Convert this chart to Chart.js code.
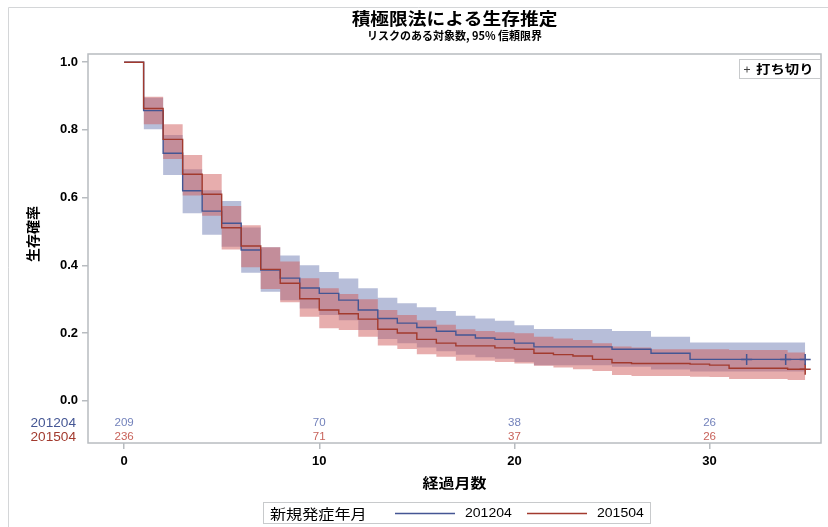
<!DOCTYPE html>
<html>
<head>
<meta charset="utf-8">
<script src="https://cdn.jsdelivr.net/npm/chart.js@4/dist/chart.umd.min.js"></script>
<style>
  html, body { margin: 0; padding: 0; background: #ffffff; }
  #wrap { width: 828px; height: 527px; position: relative; }
</style>
</head>
<body>
<div id="wrap"><canvas id="km" width="828" height="527"></canvas></div>
<script>
// Follow-up months at which each Kaplan-Meier step begins (last entry = end of follow-up)
const months = [0, 1, 2, 3, 4, 5, 6, 7, 8, 9, 10, 11, 12, 13, 14, 15, 16, 17, 18, 19,
                20, 21, 22, 23, 24, 25, 26, 27, 28, 29, 30, 31, 32, 33, 34, 34.9];

// Group 201204: survival estimate and 95% confidence limits
const surv201204 = [1.000, 0.857, 0.731, 0.620, 0.560, 0.524, 0.445, 0.386, 0.362, 0.333,
                    0.317, 0.297, 0.268, 0.243, 0.229, 0.216, 0.205, 0.194, 0.185, 0.181,
                    0.170, 0.159, 0.159, 0.159, 0.159, 0.152, 0.152, 0.140, 0.140, 0.122,
                    0.122, 0.122, 0.122, 0.122, 0.122, 0.122];
const upper201204 = [null, 0.895, 0.785, 0.684, 0.622, 0.590, 0.512, 0.453, 0.429, 0.400,
                     0.380, 0.361, 0.332, 0.304, 0.288, 0.276, 0.265, 0.251, 0.243, 0.236,
                     0.223, 0.212, 0.212, 0.212, 0.212, 0.206, 0.206, 0.189, 0.189, 0.172,
                     0.172, 0.172, 0.172, 0.172, 0.172, 0.172];
const lower201204 = [null, 0.802, 0.667, 0.554, 0.490, 0.455, 0.378, 0.322, 0.297, 0.272,
                     0.253, 0.238, 0.209, 0.182, 0.170, 0.157, 0.146, 0.136, 0.128, 0.124,
                     0.114, 0.105, 0.105, 0.105, 0.105, 0.100, 0.100, 0.092, 0.092, 0.086,
                     0.086, 0.086, 0.086, 0.086, 0.086, 0.086];

// Group 201504: survival estimate and 95% confidence limits
const surv201504 = [1.000, 0.863, 0.772, 0.669, 0.610, 0.511, 0.457, 0.388, 0.347, 0.301,
                    0.268, 0.257, 0.241, 0.211, 0.200, 0.181, 0.170, 0.162, 0.162, 0.156,
                    0.152, 0.140, 0.136, 0.132, 0.122, 0.112, 0.110, 0.110, 0.110, 0.108,
                    0.105, 0.096, 0.096, 0.096, 0.093, 0.093];
const upper201504 = [null, 0.898, 0.817, 0.726, 0.670, 0.575, 0.518, 0.453, 0.411, 0.362,
                     0.332, 0.315, 0.300, 0.268, 0.253, 0.238, 0.224, 0.211, 0.206, 0.202,
                     0.199, 0.189, 0.184, 0.179, 0.170, 0.160, 0.157, 0.152, 0.152, 0.152,
                     0.152, 0.150, 0.150, 0.150, 0.142, 0.142];
const lower201504 = [null, 0.817, 0.714, 0.606, 0.546, 0.447, 0.394, 0.330, 0.291, 0.248,
                     0.214, 0.209, 0.189, 0.163, 0.153, 0.137, 0.130, 0.118, 0.118, 0.114,
                     0.110, 0.103, 0.098, 0.093, 0.088, 0.076, 0.073, 0.073, 0.073, 0.071,
                     0.070, 0.064, 0.064, 0.064, 0.061, 0.061];

// Censoring times
const censor201204 = [31.9, 33.9, 34.9];
const censor201504 = [34.9];

// Number at risk table
const riskTimes = [0, 10, 20, 30];
const risk201204 = [209, 70, 38, 26];
const risk201504 = [236, 71, 37, 26];

// Axis ticks
const xTicks = [0, 10, 20, 30];
const yTicks = [0.0, 0.2, 0.4, 0.6, 0.8, 1.0];

const groupNames = ['201204', '201504'];
const titleText = '積極限法による生存推定';
const subtitleText = 'リスクのある対象数, 95% 信頼限界';
const xTitle = '経過月数';
const yTitle = '生存確率';
const legendTitle = '新規発症年月';
const censorLabel = '打ち切り';

const COL1 = '#445694', COL2 = '#A23A2E';
const FILL1 = 'rgba(111,126,179,0.5)', FILL2 = 'rgba(208,91,91,0.5)';
const TXT1 = '#7382bb', TXT2 = '#c8625a';
const JP = '"Noto Sans CJK JP", "Noto Sans", sans-serif';
const LAT = '"Liberation Sans", Arial, sans-serif';

function pts(values) {
  const out = [];
  values.forEach((v, i) => { if (v !== null) out.push({ x: months[i], y: v }); });
  return out;
}
function censorPts(times, surv) {
  return times.map(t => {
    let v = surv[0];
    months.forEach((m, i) => { if (m <= t) v = surv[i]; });
    return { x: t, y: v };
  });
}

// text drawn with a slight horizontal widening
function wideText(ctx, str, x, y, font, color, align, sx) {
  ctx.save();
  ctx.font = font;
  ctx.fillStyle = color;
  ctx.textAlign = align;
  ctx.textBaseline = 'middle';
  ctx.translate(x, y);
  ctx.scale(sx, 1);
  ctx.fillText(str, 0, 0);
  ctx.restore();
}

const bandBase = { stepped: true, borderWidth: 0, borderColor: 'transparent', pointRadius: 0 };
const lineBase = { stepped: true, borderWidth: 1.4, pointRadius: 0, fill: false };

const decorations = {
  id: 'decorations',
  beforeDraw(chart) {
    const ctx = chart.ctx;
    ctx.save();
    ctx.fillStyle = '#ffffff';
    ctx.fillRect(0, 0, chart.width, chart.height);
    ctx.strokeStyle = '#d4d6d8';
    ctx.lineWidth = 1;
    ctx.beginPath();
    ctx.moveTo(8.5, chart.height);
    ctx.lineTo(8.5, 7.5);
    ctx.lineTo(chart.width, 7.5);
    ctx.stroke();
    ctx.restore();
  },
  afterDraw(chart) {
    const ctx = chart.ctx;
    const a = chart.chartArea;
    const xs = chart.scales.x, ys = chart.scales.y;
    ctx.save();
    // plot frame
    ctx.strokeStyle = '#b8bcc0';
    ctx.lineWidth = 1.5;
    ctx.strokeRect(a.left, a.top, a.right - a.left, a.bottom - a.top);

    // titles
    const cx = (a.left + a.right) / 2;
    wideText(ctx, titleText, cx, 19, 'bold 17px ' + JP, '#000000', 'center', 1.1);
    wideText(ctx, subtitleText, cx, 36, 'bold 11px ' + JP, '#000000', 'center', 1.0);

    // axis titles
    wideText(ctx, xTitle, cx, 483, 'bold 14px ' + JP, '#000000', 'center', 1.14);
    ctx.save();
    ctx.translate(33, 234);
    ctx.rotate(-Math.PI / 2);
    ctx.font = 'bold 14px ' + JP;
    ctx.fillStyle = '#000000';
    ctx.textAlign = 'center';
    ctx.textBaseline = 'middle';
    ctx.fillText(yTitle, 0, 0);
    ctx.restore();

    // number at risk
    const rowY = [ys.getPixelForValue(-0.066), ys.getPixelForValue(-0.108)];
    const rows = [risk201204, risk201504];
    const lblCol = [COL1, COL2], numCol = [TXT1, TXT2];
    rows.forEach((row, r) => {
      wideText(ctx, groupNames[r], 76, rowY[r], '13px ' + LAT, lblCol[r], 'right', 1.05);
      row.forEach((n, i) =>
        wideText(ctx, String(n), xs.getPixelForValue(riskTimes[i]), rowY[r], '11px ' + LAT, numCol[r], 'center', 1.05));
    });

    // censor legend box
    ctx.strokeStyle = '#c8cacc';
    ctx.lineWidth = 1;
    ctx.strokeRect(739.5, 59.5, 82, 19);
    ctx.strokeStyle = '#444444';
    ctx.beginPath();
    ctx.moveTo(744, 69.5); ctx.lineTo(750, 69.5);
    ctx.moveTo(747, 66.5); ctx.lineTo(747, 72.5);
    ctx.stroke();
    wideText(ctx, censorLabel, 756, 69.5, 'bold 12.5px ' + JP, '#000000', 'left', 1.15);

    // group legend
    ctx.strokeStyle = '#c8cacc';
    ctx.strokeRect(263.5, 502.5, 387, 21);
    wideText(ctx, legendTitle, 270, 513.5, '14px ' + JP, '#000000', 'left', 1.15);
    const items = [[395, COL1, groupNames[0]], [527, COL2, groupNames[1]]];
    items.forEach(([x0, c, label]) => {
      ctx.strokeStyle = c;
      ctx.lineWidth = 1.4;
      ctx.beginPath();
      ctx.moveTo(x0, 513.5); ctx.lineTo(x0 + 60, 513.5);
      ctx.stroke();
      wideText(ctx, label, x0 + 70, 513.5, '13px ' + LAT, '#000000', 'left', 1.08);
    });
    ctx.restore();
  }
};

const chart = new Chart(document.getElementById('km'), {
  type: 'line',
  data: {
    datasets: [
      Object.assign({ label: groupNames[1], data: pts(surv201504), borderColor: COL2, order: 0 }, lineBase),
      Object.assign({ label: groupNames[0], data: pts(surv201204), borderColor: COL1, order: 0.5 }, lineBase),
      Object.assign({ label: 'u2', data: pts(upper201504), fill: '+1', backgroundColor: FILL2, order: 1 }, bandBase),
      Object.assign({ label: 'l2', data: pts(lower201504), fill: false, order: 1 }, bandBase),
      Object.assign({ label: 'u1', data: pts(upper201204), fill: '+1', backgroundColor: FILL1, order: 2 }, bandBase),
      Object.assign({ label: 'l1', data: pts(lower201204), fill: false, order: 2 }, bandBase),
      { label: 'c1', data: censorPts(censor201204, surv201204), showLine: false, pointStyle: 'cross',
        pointRadius: 5.5, pointBorderColor: COL1, pointBorderWidth: 1.5, order: -1 },
      { label: 'c2', data: censorPts(censor201504, surv201504), showLine: false, pointStyle: 'cross',
        pointRadius: 5.5, pointBorderColor: COL2, pointBorderWidth: 1.5, order: -1 }
    ]
  },
  options: {
    responsive: false,
    animation: false,
    devicePixelRatio: 1,
    layout: { padding: { top: 54, right: 2, bottom: 0, left: 0 } },
    plugins: { legend: { display: false }, title: { display: false }, tooltip: { enabled: false } },
    scales: {
      x: {
        type: 'linear', min: -1.85, max: 35.71,
        afterBuildTicks: s => { s.ticks = xTicks.map(v => ({ value: v })); },
        afterFit: s => { s.height = 84; },
        border: { display: false },
        grid: { drawOnChartArea: false, drawTicks: true, tickLength: 6, color: '#b8bcc0', lineWidth: 1.5 },
        ticks: { padding: 5, color: '#000000', font: { family: LAT, size: 13, weight: 'bold' }, maxRotation: 0 }
      },
      y: {
        type: 'linear', min: -0.125, max: 1.0242,
        afterBuildTicks: s => { s.ticks = yTicks.map(v => ({ value: v })); },
        afterFit: s => { s.width = 88; },
        border: { display: false },
        grid: { drawOnChartArea: false, drawTicks: true, tickLength: 6, color: '#b8bcc0', lineWidth: 1.5 },
        ticks: { padding: 4, color: '#000000', font: { family: LAT, size: 13, weight: 'bold' },
                 callback: v => Number(v).toFixed(1) }
      }
    }
  },
  plugins: [decorations]
});
</script>
</body>
</html>
